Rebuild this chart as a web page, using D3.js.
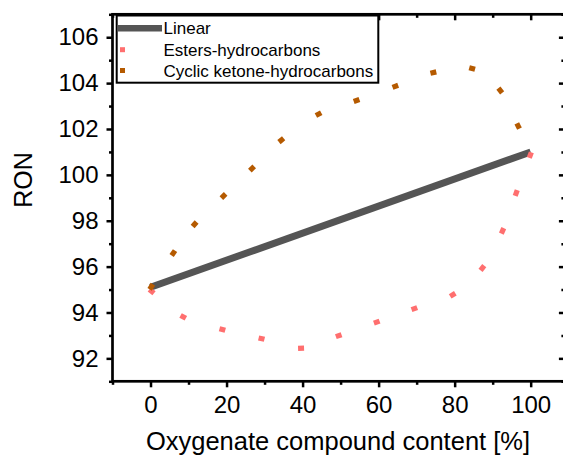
<!DOCTYPE html>
<html>
<head>
<meta charset="utf-8">
<script src="https://cdn.jsdelivr.net/npm/d3@7"></script>
<style>
  html, body { margin: 0; padding: 0; background: #fff; }
  svg { display: block; font-family: "Liberation Sans", Arial, sans-serif; }
</style>
</head>
<body>
<svg id="chart" width="563" height="459"></svg>
<script>
// ---- data ----
const seriesNames = ["Linear", "Esters-hydrocarbons", "Cyclic ketone-hydrocarbons"];
const linearX = [0, 100];
const linearY = [95.1, 101.0];
const esterX = [0.3, 8.6, 18.9, 29.2, 39.6, 49.5, 59.5, 69.4, 79.5, 87.3, 92.6, 96.2, 99.9];
const esterY = [94.92, 93.81, 93.26, 92.86, 92.44, 92.99, 93.58, 94.17, 94.77, 95.94, 97.56, 99.21, 100.86];
const ketoneX = [0.2, 6.0, 11.6, 19.2, 26.7, 34.4, 44.2, 54.2, 64.4, 74.4, 84.6, 92.0, 96.7];
const ketoneY = [95.12, 96.59, 97.85, 99.08, 100.28, 101.51, 102.65, 103.24, 103.86, 104.46, 104.64, 103.68, 102.13];
const xTicks = [0, 20, 40, 60, 80, 100];
const xMinor = [-10, 10, 30, 50, 70, 90];
const yTicks = [92, 94, 96, 98, 100, 102, 104, 106];
const yMinor = [91, 93, 95, 97, 99, 101, 103, 105, 107];
const xTitle = "Oxygenate compound content [%]";
const yTitle = "RON";

// ---- layout ----
const colors = { linear: "#555555", ester: "#ff6f6f", ketone: "#b55a00" };
const L = 112.5, R = 564.9, T = 14.3, B = 381.3;
const svg = d3.select("#chart");
const x = d3.scaleLinear().domain([-10, 109]).range([L, R]);
const y = d3.scaleLinear().domain([91, 107]).range([B, T]);

// linear line
svg.append("path")
  .datum(linearX.map((d, i) => [d, linearY[i]]))
  .attr("fill", "none")
  .attr("stroke", colors.linear)
  .attr("stroke-width", 7)
  .attr("d", d3.line().x(d => x(d[0])).y(d => y(d[1])));

// dotted series: short dashes oriented along the curve
function drawDots(xs, ys, color) {
  const pts = xs.map((d, i) => [x(d), y(ys[i])]);
  const g = svg.append("g");
  pts.forEach((p, i) => {
    const a = pts[Math.max(0, i - 1)], b = pts[Math.min(pts.length - 1, i + 1)];
    const ang = Math.atan2(b[1] - a[1], b[0] - a[0]) * 180 / Math.PI;
    g.append("rect")
      .attr("x", -3).attr("y", -2.6)
      .attr("width", 6).attr("height", 5.2)
      .attr("fill", color)
      .attr("transform", `translate(${p[0]},${p[1]}) rotate(${ang})`);
  });
}
drawDots(esterX, esterY, colors.ester);
drawDots(ketoneX, ketoneY, colors.ketone);

// axes
function styleAxis(g) {
  g.select(".domain").remove();
  g.selectAll(".tick line").attr("stroke", "#000").attr("stroke-width", 2.5);
  g.selectAll(".tick text").attr("fill", "#000").attr("font-size", "24px")
    .attr("font-family", '"Liberation Sans", Arial, sans-serif');
}
svg.append("g").attr("transform", `translate(${L},0)`)
  .call(d3.axisLeft(y).tickValues(yTicks).tickSize(6).tickPadding(8).tickFormat(d3.format("d"))).call(styleAxis);
svg.append("g").attr("transform", `translate(${L},0)`)
  .call(d3.axisLeft(y).tickValues(yMinor).tickSize(3.5).tickFormat("")).call(styleAxis);
svg.append("g").attr("transform", `translate(0,${B})`)
  .call(d3.axisBottom(x).tickValues(xTicks).tickSize(6).tickPadding(8.5).tickFormat(d3.format("d"))).call(styleAxis);
svg.append("g").attr("transform", `translate(0,${B})`)
  .call(d3.axisBottom(x).tickValues(xMinor).tickSize(3.5).tickFormat("")).call(styleAxis);
svg.append("g").attr("transform", `translate(0,${T})`)
  .call(d3.axisTop(x).tickValues(xTicks).tickSize(-6).tickFormat("")).call(styleAxis);
svg.append("g").attr("transform", `translate(0,${T})`)
  .call(d3.axisTop(x).tickValues(xMinor).tickSize(-3.5).tickFormat("")).call(styleAxis);
svg.append("g").attr("transform", `translate(${R},0)`)
  .call(d3.axisRight(y).tickValues(yTicks).tickSize(-6).tickFormat("")).call(styleAxis);
svg.append("g").attr("transform", `translate(${R},0)`)
  .call(d3.axisRight(y).tickValues(yMinor).tickSize(-3.5).tickFormat("")).call(styleAxis);

// frame
svg.append("rect").attr("x", L).attr("y", T).attr("width", R - L).attr("height", B - T)
  .attr("fill", "none").attr("stroke", "#000").attr("stroke-width", 2.7);

// titles
svg.append("text").attr("x", 338).attr("y", 450).attr("text-anchor", "middle")
  .attr("font-size", "25.5px").attr("fill", "#000").text(xTitle);
svg.append("text").attr("transform", "translate(32,180) rotate(-90)").attr("text-anchor", "middle")
  .attr("font-size", "25px").attr("fill", "#000").text(yTitle);

// legend
const lg = svg.append("g");
lg.append("rect").attr("x", 116.7).attr("y", 15.5).attr("width", 261.6).attr("height", 67.2)
  .attr("fill", "#fff").attr("stroke", "#000").attr("stroke-width", 2);
lg.append("line").attr("x1", 117.5).attr("x2", 162).attr("y1", 28.3).attr("y2", 28.3)
  .attr("stroke", colors.linear).attr("stroke-width", 6.5);
lg.append("rect").attr("x", 120).attr("y", 47.2).attr("width", 5).attr("height", 5).attr("fill", colors.ester);
lg.append("rect").attr("x", 120).attr("y", 68).attr("width", 5).attr("height", 5).attr("fill", colors.ketone);
const lgY = [34, 55.7, 76.7];
seriesNames.forEach((n, i) => {
  lg.append("text").attr("x", 163.5).attr("y", lgY[i]).attr("font-size", "17px").attr("fill", "#000").text(n);
});
</script>
</body>
</html>
